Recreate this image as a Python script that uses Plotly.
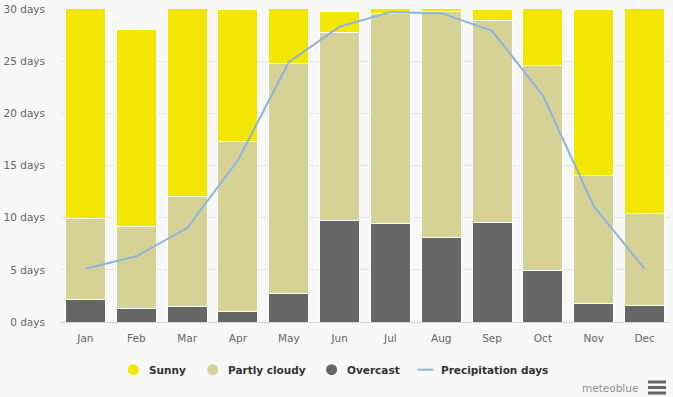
import plotly.graph_objects as go

months = ["Jan", "Feb", "Mar", "Apr", "May", "Jun", "Jul", "Aug", "Sep", "Oct", "Nov", "Dec"]
overcast = [2.2, 1.3, 1.5, 1.0, 2.7, 9.7, 9.4, 8.1, 9.5, 4.9, 1.8, 1.6]
partly_cloudy = [7.7, 7.9, 10.5, 16.3, 22.1, 18.05, 20.2, 21.7, 19.4, 19.7, 12.2, 8.8]
sunny = [21.1, 18.8, 19.0, 12.7, 6.2, 2.0, 1.4, 1.2, 1.1, 6.4, 16.0, 20.6]
precipitation_days = [5.1, 6.3, 9.0, 15.5, 24.9, 28.3, 29.7, 29.6, 27.9, 21.7, 11.1, 5.1]
y_ticks = [0, 5, 10, 15, 20, 25, 30]
y_tick_labels = [f"{v} days" for v in y_ticks]

C_SUNNY = "#F3E600"
C_PARTLY = "#D6D296"
C_OVER = "#666666"
C_LINE = "#8DB3E0"
BG = "#F8F8F8"

W, H = 673, 397
L, R, T, B = 60, 3, 9, 75
PW, PH = W - L - R, H - T - B

def px(xp):
    return (xp - L) / PW

def py(yp):
    return (H - B - yp) / PH

fig = go.Figure()
for name, vals, col in [("Overcast", overcast, C_OVER),
                        ("Partly cloudy", partly_cloudy, C_PARTLY),
                        ("Sunny", sunny, C_SUNNY)]:
    fig.add_trace(go.Bar(x=months, y=vals, name=name, marker=dict(color=col, line=dict(color="white", width=1)),
                         showlegend=False))
fig.add_trace(go.Scatter(x=months, y=precipitation_days, name="Precipitation days", mode="lines",
                         line=dict(color=C_LINE, width=2), showlegend=False))

FONT = "DejaVu Sans"
shapes = []
annotations = []
legend_y = 369.7
items = [("Sunny", C_SUNNY, 133.3, 147.3, "dot"),
         ("Partly cloudy", C_PARTLY, 212.7, 225.7, "dot"),
         ("Overcast", C_OVER, 331.6, 344.7, "dot"),
         ("Precipitation days", C_LINE, 425.5, 439.0, "line")]
for label, col, cx, tx, kind in items:
    if kind == "dot":
        shapes.append(dict(type="circle", xref="paper", yref="paper", xsizemode="pixel", ysizemode="pixel",
                           xanchor=px(cx), yanchor=py(legend_y), x0=-5.5, x1=5.5, y0=-5.5, y1=5.5,
                           fillcolor=col, line=dict(width=0)))
    else:
        shapes.append(dict(type="line", xref="paper", yref="paper", x0=px(cx - 8), x1=px(cx + 8),
                           y0=py(legend_y), y1=py(legend_y), line=dict(color=col, width=2)))
    annotations.append(dict(text=f"<b>{label}</b>", xref="paper", yref="paper", x=px(tx), y=py(legend_y),
                            xanchor="left", yanchor="middle", showarrow=False,
                            font=dict(family=FONT, size=10.5, color="#333333")))

annotations.append(dict(text="meteoblue", xref="paper", yref="paper", x=px(580), y=py(388),
                        xanchor="left", yanchor="middle", showarrow=False,
                        font=dict(family=FONT, size=10.5, color="#909090")))
for yy in (382, 387.5, 393):
    shapes.append(dict(type="line", xref="paper", yref="paper", x0=px(648), x1=px(666),
                       y0=py(yy), y1=py(yy), line=dict(color="#666666", width=3)))

fig.update_layout(
    width=W, height=H,
    margin=dict(l=L, r=R, t=T, b=B),
    barmode="stack", bargap=0.213,
    paper_bgcolor=BG, plot_bgcolor=BG,
    font=dict(family=FONT, size=10.5, color="#666666"),
    shapes=shapes, annotations=annotations,
    showlegend=False, hovermode=False,
)
fig.update_xaxes(showgrid=False, showline=True, linecolor="#CCD6EB", linewidth=1,
                 ticks="", ticklabelstandoff=6, tickfont=dict(family=FONT, size=10.5, color="#666666"))
fig.update_yaxes(range=[0, 30], tickvals=y_ticks, ticktext=y_tick_labels, showgrid=True,
                 gridcolor="#E6E6E6", gridwidth=1, zeroline=False, showline=False,
                 ticklabelstandoff=14, tickfont=dict(family=FONT, size=10.5, color="#666666"))

fig.write_html("out.html", config={"displayModeBar": False},
               post_script="document.body.style.margin='0';document.body.style.background='%s';" % BG)
